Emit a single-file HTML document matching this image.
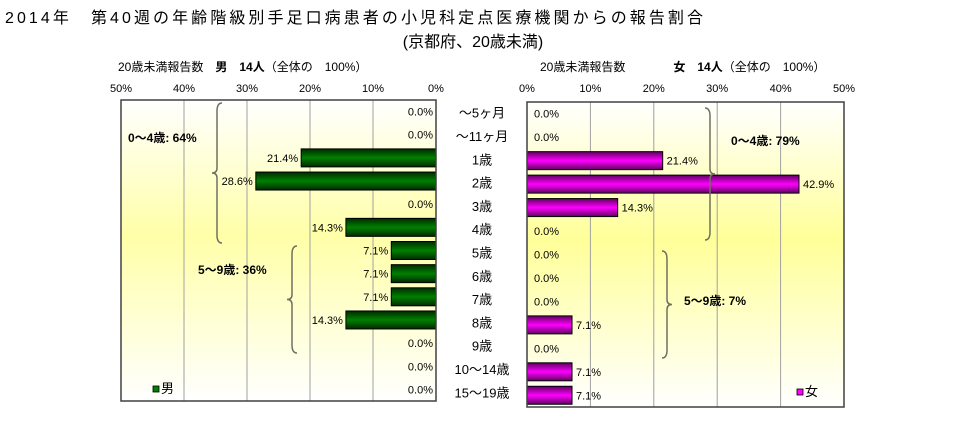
<!DOCTYPE html>
<html><head><meta charset="utf-8"><style>
body{margin:0;background:#fff;}
svg{display:block;font-family:"Liberation Sans","Noto Sans CJK JP",sans-serif;}
</style></head><body>
<svg id="c" width="968" height="443" viewBox="0 0 968 443">
<defs>
<linearGradient id="bgL" x1="0" y1="0" x2="0" y2="1"><stop offset="0" stop-color="#ffffff"/><stop offset="0.45" stop-color="#ffffa8"/><stop offset="1" stop-color="#ffffff"/></linearGradient>
<linearGradient id="bgR" x1="0" y1="0" x2="0" y2="1"><stop offset="0" stop-color="#ffffff"/><stop offset="0.45" stop-color="#ffff99"/><stop offset="1" stop-color="#ffffff"/></linearGradient>
<linearGradient id="gG" x1="0" y1="0" x2="0" y2="1"><stop offset="0" stop-color="#002a00"/><stop offset="0.5" stop-color="#008000"/><stop offset="1" stop-color="#002a00"/></linearGradient>
<linearGradient id="gM" x1="0" y1="0" x2="0" y2="1"><stop offset="0" stop-color="#600060"/><stop offset="0.5" stop-color="#ff00ff"/><stop offset="1" stop-color="#600060"/></linearGradient>
</defs>
<text x="5" y="23" font-size="16" textLength="698">2014年　第40週の年齢階級別手足口病患者の小児科定点医療機関からの報告割合</text>
<text x="473" y="47" font-size="16" text-anchor="middle">(京都府、20歳未満)</text>
<text x="118" y="71" font-size="12">20歳未満報告数　<tspan font-weight="bold">男　14人</tspan>（全体の　100%）</text>
<text x="540" y="71" font-size="12">20歳未満報告数　　　　<tspan font-weight="bold">女　14人</tspan>（全体の　100%）</text>
<g id="plots"></g>
</svg>
<script>
const categories=["～5ヶ月","～11ヶ月","1歳","2歳","3歳","4歳","5歳","6歳","7歳","8歳","9歳","10～14歳","15～19歳"];
const maleValues=[0,0,21.4,28.6,0,14.3,7.1,7.1,7.1,14.3,0,0,0];
const femaleValues=[0,0,21.4,42.9,14.3,0,0,0,0,7.1,0,7.1,7.1];
const ticks=[0,10,20,30,40,50];
const NS="http://www.w3.org/2000/svg";
const g=document.getElementById('plots');
function mk(t,a,txt){const e=document.createElementNS(NS,t);for(const k in a)e.setAttribute(k,a[k]);if(txt!==undefined)e.textContent=txt;g.appendChild(e);return e;}
// left axis: 0 at 436, 50 at 121
const L={x0:436,x1:121,top:100,bot:401};
const R={x0:527,x1:844,top:102,bot:407};
function xL(v){return L.x0+(L.x1-L.x0)*v/50;}
function xR(v){return R.x0+(R.x1-R.x0)*v/50;}
function rowL(i){return L.top+(L.bot-L.top)/categories.length*(i+0.5);}
function rowR(i){return R.top+(R.bot-R.top)/categories.length*(i+0.5);}
let e;
e=mk('rect',{x:L.x1,y:L.top,width:L.x0-L.x1,height:L.bot-L.top,fill:'url(#bgL)'});

e=mk('rect',{x:R.x0,y:R.top,width:R.x1-R.x0,height:R.bot-R.top,fill:'url(#bgR)'});

ticks.forEach(t=>{
  if(t>0&&t<50){
    e=mk('line',{x1:xL(t),x2:xL(t),y1:L.top,y2:L.bot,stroke:'#a0a0a0'});
    
    e=mk('line',{x1:xR(t),x2:xR(t),y1:R.top,y2:R.bot,stroke:'#a0a0a0'});
    
  }
  e=mk('text',{x:xL(t),y:92,'font-size':11,'text-anchor':'middle'},t+'%');
  
  e=mk('text',{x:xR(t),y:92,'font-size':11,'text-anchor':'middle'},t+'%');
  
});
const bh=18;
categories.forEach((c,i)=>{
  const yl=rowL(i),yr=rowR(i);
  e=mk('text',{x:482,y:(yl+yr)/2+5,'font-size':13,'text-anchor':'middle'},c);
  
  const mv=maleValues[i];
  if(mv>0){
    e=mk('rect',{x:xL(mv),y:yl-bh/2,width:L.x0-xL(mv),height:bh,fill:'url(#gG)',stroke:'#000','stroke-width':1});
    
  }
  e=mk('text',{x:xL(mv)-3,y:yl+4,'font-size':11,'text-anchor':'end'},mv.toFixed(1)+'%');
  
  const fv=femaleValues[i];
  if(fv>0){
    e=mk('rect',{x:R.x0,y:yr-bh/2,width:xR(fv)-R.x0,height:bh,fill:'url(#gM)',stroke:'#000','stroke-width':1});
    
  }
  e=mk('text',{x:xR(fv)+(fv>0?4:7),y:yr+4,'font-size':11},fv.toFixed(1)+'%');
  
});
e=mk('rect',{x:L.x1,y:L.top,width:L.x0-L.x1,height:L.bot-L.top,fill:'none',stroke:'#404040','stroke-width':1.5});

e=mk('rect',{x:R.x0,y:R.top,width:R.x1-R.x0,height:R.bot-R.top,fill:'none',stroke:'#404040','stroke-width':1.5});

// braces
function brace(x,y1,y2,dir){const m=(y1+y2)/2,w=5*dir;
 return `M${x+w},${y1} Q${x},${y1} ${x},${y1+8} L${x},${m-5} Q${x},${m} ${x-w},${m} Q${x},${m} ${x},${m+5} L${x},${y2-8} Q${x},${y2} ${x+w},${y2}`;}
e=mk('path',{d:brace(217,103,243,1),fill:'none',stroke:'#707060','stroke-width':1.5});

e=mk('path',{d:brace(292,246,353,1),fill:'none',stroke:'#707060','stroke-width':1.5});

e=mk('path',{d:brace(710,108,240,-1),fill:'none',stroke:'#707060','stroke-width':1.5});

e=mk('path',{d:brace(667,251,358,-1),fill:'none',stroke:'#707060','stroke-width':1.5});

e=mk('text',{x:128,y:142,'font-size':12,'font-weight':'bold'},'0～4歳: 64%');

e=mk('text',{x:198,y:274,'font-size':12,'font-weight':'bold'},'5～9歳: 36%');

e=mk('text',{x:731,y:145,'font-size':12,'font-weight':'bold'},'0～4歳: 79%');

e=mk('text',{x:684,y:305,'font-size':12,'font-weight':'bold'},'5～9歳: 7%');

// legends
e=mk('rect',{x:153,y:386,width:6,height:6,fill:'#008000',stroke:'#000','stroke-width':0.8});

e=mk('text',{x:161,y:393,'font-size':13},'男');

e=mk('rect',{x:797,y:389,width:6,height:6,fill:'#ff00ff',stroke:'#000','stroke-width':0.8});

e=mk('text',{x:805,y:396,'font-size':13},'女');

</script>
</body></html>
